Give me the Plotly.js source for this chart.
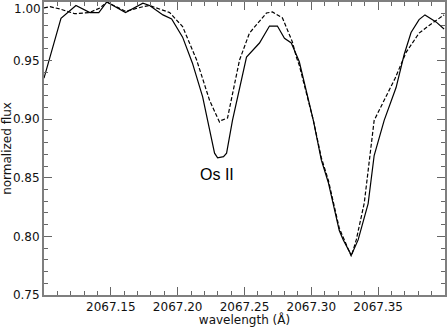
<!DOCTYPE html>
<html>
<head>
<meta charset="utf-8">
<script src="https://cdn.plot.ly/plotly-3.0.1.min.js"></script>
<style>html,body{margin:0;padding:0;background:#fff;}#chart{width:447px;height:327px;}</style>
</head>
<body>
<div id="chart"></div>
<script>
// Observed spectrum (solid)
var obsWave = [2067.100, 2067.1127, 2067.1239, 2067.1343, 2067.141, 2067.147, 2067.161, 2067.174, 2067.179,
  2067.189, 2067.1955, 2067.2037, 2067.211, 2067.2187, 2067.2224, 2067.2276, 2067.2299, 2067.2343, 2067.2366,
  2067.241, 2067.2515, 2067.2612, 2067.2687, 2067.2746, 2067.2799, 2067.285, 2067.2888, 2067.291, 2067.3015,
  2067.3075, 2067.3127, 2067.3209, 2067.3239, 2067.3299, 2067.335, 2067.3425, 2067.347, 2067.3545, 2067.3634,
  2067.3694, 2067.3746, 2067.3806, 2067.385, 2067.3933, 2067.3993];
var obsFlux = [0.935, 0.986, 0.997, 0.991, 0.991, 1.000, 0.991, 0.999, 0.997,
  0.989, 0.9855, 0.970, 0.948, 0.919, 0.899, 0.871, 0.867, 0.868, 0.871,
  0.899, 0.953, 0.965, 0.9795, 0.9795, 0.969, 0.965, 0.955, 0.949, 0.899,
  0.865, 0.846, 0.805, 0.797, 0.784, 0.797, 0.828, 0.869, 0.899, 0.927,
  0.955, 0.974, 0.985, 0.989, 0.983, 0.977];
// Synthetic spectrum (dashed)
var synWave = [2067.100, 2067.1045, 2067.112, 2067.123, 2067.134, 2067.142, 2067.147, 2067.161, 2067.174,
  2067.179, 2067.194, 2067.2037, 2067.2142, 2067.2239, 2067.2299, 2067.2313, 2067.2328, 2067.2373, 2067.2463,
  2067.2537, 2067.2664, 2067.2709, 2067.2784, 2067.2858, 2067.2888, 2067.291, 2067.3015, 2067.3075, 2067.3127,
  2067.3209, 2067.3239, 2067.3299, 2067.3336, 2067.3396, 2067.347, 2067.3545, 2067.3627, 2067.3709, 2067.3806,
  2067.3881, 2067.3955, 2067.3993];
var synFlux = [0.995, 0.996, 0.994, 0.990, 0.991, 0.995, 1.000, 0.992, 0.996,
  0.997, 0.991, 0.979, 0.9505, 0.916, 0.901, 0.8976, 0.899, 0.901, 0.9505,
  0.9735, 0.9906, 0.9915, 0.9864, 0.966, 0.953, 0.946, 0.899, 0.867, 0.848,
  0.807, 0.799, 0.783, 0.797, 0.8285, 0.899, 0.916, 0.935, 0.957, 0.9735,
  0.980, 0.986, 0.989];
var xTicks = [2067.15, 2067.20, 2067.25, 2067.30, 2067.35];
var xTickText = ["2067.15", "2067.20", "2067.25", "2067.30", "2067.35"];
var yTicks = [0.75, 0.80, 0.85, 0.90, 0.95, 1.00];
var yTickText = ["0.75", "0.80", "0.85", "0.90", "0.95", ""];
var topYTickLabel = "1.00";
var lineLabel = "Os II";
var lineLabelPos = [2067.2296, 0.8525];

var axisCommon = {
  showgrid: false, zeroline: false, showline: true, linecolor: '#7f7f7f', linewidth: 2,
  mirror: 'ticks', ticks: 'inside', ticklen: 8, tickwidth: 1.2, tickcolor: '#666',
  tickfont: {family: 'DejaVu Sans', size: 12, color: '#111'}, automargin: false
};
var xaxis = Object.assign({}, axisCommon, {
  range: [2067.10, 2067.40], tickvals: xTicks, ticktext: xTickText,
  minor: {dtick: 0.01, tick0: 2067.10, ticks: 'inside', ticklen: 4, tickwidth: 1, tickcolor: '#666'},
  title: {text: 'wavelength (Å)', font: {family: 'DejaVu Sans', size: 12, color: '#111'}, standoff: 2}
});
var yaxis = Object.assign({}, axisCommon, {
  range: [0.75, 1.00], tickvals: yTicks, ticktext: yTickText,
  minor: {dtick: 0.01, tick0: 0.75, ticks: 'inside', ticklen: 4, tickwidth: 1, tickcolor: '#666'},
  title: {text: 'normalized flux', font: {family: 'DejaVu Sans', size: 12, color: '#111'}, standoff: 2}
});

var traces = [
  {x: obsWave, y: obsFlux, mode: 'lines', line: {color: '#000', width: 1.2}, hoverinfo: 'skip'},
  {x: synWave, y: synFlux, mode: 'lines', line: {color: '#000', width: 1.2, dash: '4px,2px'}, hoverinfo: 'skip'}
];
var layout = {
  width: 447, height: 327,
  margin: {l: 44, r: 2, t: 2, b: 32},
  paper_bgcolor: '#fff', plot_bgcolor: '#fff',
  showlegend: false,
  xaxis: xaxis, yaxis: yaxis,
  annotations: [
    {x: lineLabelPos[0], y: lineLabelPos[1], xref: 'x', yref: 'y', text: lineLabel, showarrow: false,
     font: {family: 'Liberation Sans', size: 16, color: '#000'}},
    {x: 0, y: 1.00, xref: 'paper', yref: 'y', xanchor: 'right', yanchor: 'top', xshift: -1, yshift: 2,
     text: topYTickLabel, showarrow: false, font: {family: 'DejaVu Sans', size: 12, color: '#111'}}
  ]
};
Plotly.newPlot('chart', traces, layout, {staticPlot: true});
</script>
</body>
</html>
